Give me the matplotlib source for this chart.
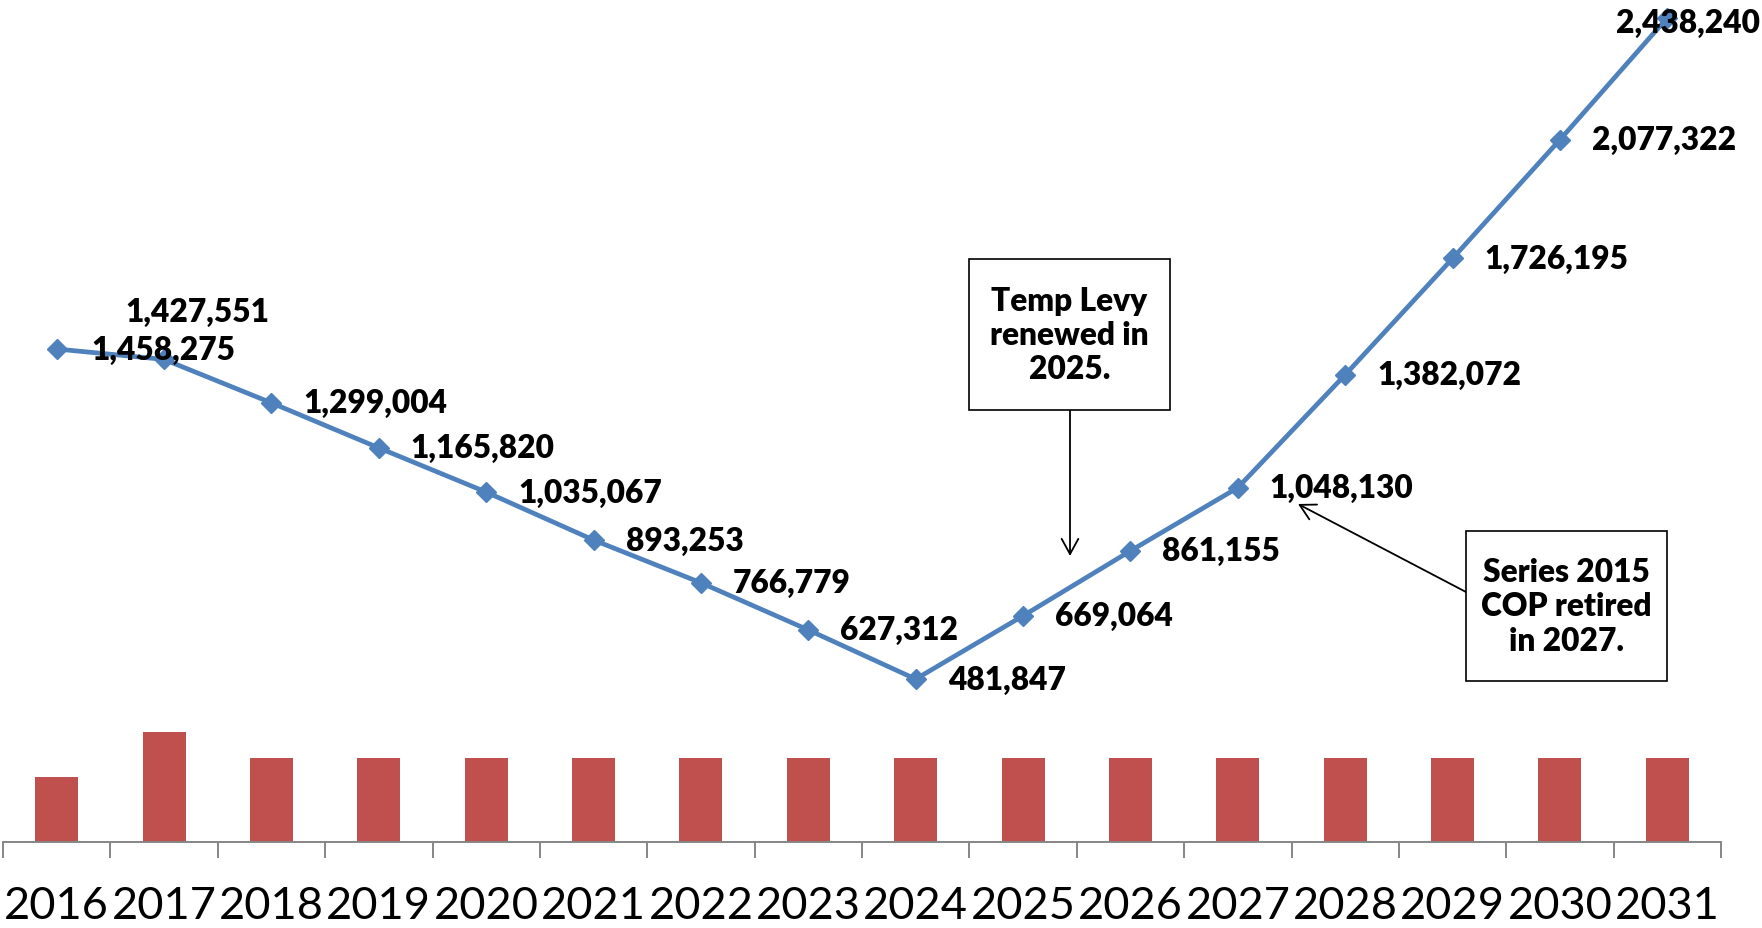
import matplotlib
matplotlib.use("Agg")
import matplotlib.pyplot as plt
from matplotlib.patches import Rectangle
import numpy as np

years = ["2016", "2017", "2018", "2019", "2020", "2021", "2022", "2023",
         "2024", "2025", "2026", "2027", "2028", "2029", "2030", "2031"]
line_values = [1458275, 1427551, 1299004, 1165820, 1035067, 893253, 766779, 627312,
               481847, 669064, 861155, 1048130, 1382072, 1726195, 2077322, 2438240]
bar_values = [192000, 325000, 249000, 249000, 249000, 249000, 249000, 249000,
              249000, 249000, 249000, 249000, 249000, 249000, 249000, 249000]
box1_text = "Temp Levy\nrenewed in\n2025."
box2_text = "Series 2015\nCOP retired\nin 2027."

LINE_C = "#4F81BD"
BAR_C = "#C0504D"
AXIS_C = "#868686"
W, H = 1762, 929
FONT = "Lato"
WEIGHT = 800

fig = plt.figure(figsize=(W / 100, H / 100), dpi=100)
ax = fig.add_axes([3 / W, (H - 843) / H, (1721 - 3) / W, (843 - 8) / H])

x = np.arange(len(years))
ax.bar(x, bar_values, width=0.40, color=BAR_C, zorder=2)
ax.plot(x, line_values, color=LINE_C, lw=3.4, marker="D", markersize=10,
        markerfacecolor=LINE_C, markeredgecolor=LINE_C, zorder=3)

ax.set_xlim(-0.5, len(years) - 0.5)
ax.set_ylim(0, 2470000)

# label offsets in pixels (dx, dy)
offsets = {0: (35, 0), 1: (-39, 48), 15: (-51, -5)}
for i, v in enumerate(line_values):
    dx, dy = offsets.get(i, (32, 0))
    ax.annotate(f"{v:,}", xy=(x[i], v), xytext=(dx, dy), textcoords="offset pixels",
                ha="left", va="center", fontsize=22.8, fontweight=WEIGHT,
                family=FONT, color="black", zorder=5)

# axes styling
for s in ["top", "right", "left"]:
    ax.spines[s].set_visible(False)
ax.spines["bottom"].set_color(AXIS_C)
ax.spines["bottom"].set_linewidth(1.4)
ax.set_yticks([])
ax.set_xticks(np.arange(-0.5, len(years), 1.0))
ax.set_xticklabels([])
ax.tick_params(axis="x", which="major", length=11.5, width=1.4, color=AXIS_C, direction="out")
ax.set_xticks(x, minor=True)
ax.set_xticklabels(years, minor=True, fontsize=32.5, family=FONT, color="black")
ax.tick_params(axis="x", which="minor", length=0, pad=31)


def fp(px, py):
    return (px, H - py)


def box(x0, y0, x1, y1, text):
    r = Rectangle((x0 / W, 1 - y1 / H), (x1 - x0) / W, (y1 - y0) / H,
                  transform=fig.transFigure, facecolor="white", edgecolor="black",
                  lw=1.2, zorder=6)
    fig.add_artist(r)
    fig.text((x0 + x1) / 2 / W, 1 - (y0 + y1) / 2 / H, text, ha="center", va="center",
             fontsize=22.8, fontweight=WEIGHT, family=FONT, linespacing=1.22, zorder=7)


box(969, 260, 1170, 411, box1_text)
box(1466, 532, 1667, 682, box2_text)

arrow_kw = dict(arrowstyle="->,head_length=0.55,head_width=0.3", color="black", lw=1.3,
                shrinkA=0, shrinkB=0, mutation_scale=20)
ax.annotate("", xy=fp(1070, 557), xytext=fp(1070, 411), xycoords="figure pixels",
            textcoords="figure pixels", arrowprops=arrow_kw, zorder=6)
ax.annotate("", xy=fp(1298, 505), xytext=fp(1466, 593), xycoords="figure pixels",
            textcoords="figure pixels", arrowprops=arrow_kw, zorder=6)

fig.savefig("out.png", dpi=100, facecolor="white")
